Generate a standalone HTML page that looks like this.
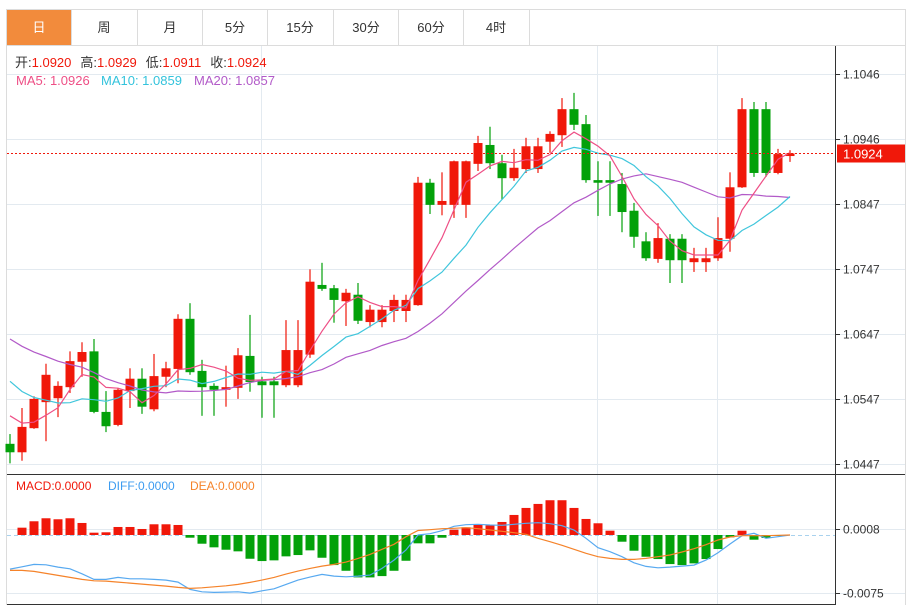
<!DOCTYPE html>
<html><head><meta charset="utf-8"><style>
html,body{margin:0;padding:0;background:#fff;}
svg{display:block;font-family:"Liberation Sans","Noto Sans CJK SC",sans-serif;}
</style></head><body>
<svg id="c" width="916" height="606" viewBox="0 0 916 606">
  <rect x="0" y="0" width="916" height="606" fill="#fff"/>
  <g>
    <line x1="6" y1="9.5" x2="906" y2="9.5" stroke="#dcdcdc"/>
    <line x1="6" y1="45.5" x2="906" y2="45.5" stroke="#dcdcdc"/>
    <rect x="7" y="10" width="64" height="35" fill="#f28b3c"/>
    <text x="39" y="32" text-anchor="middle" font-size="13" fill="#fff">日</text>
    <g stroke="#dcdcdc"><line x1="71.5" y1="10" x2="71.5" y2="45"/><line x1="137.5" y1="10" x2="137.5" y2="45"/><line x1="202.5" y1="10" x2="202.5" y2="45"/><line x1="267.5" y1="10" x2="267.5" y2="45"/><line x1="333.5" y1="10" x2="333.5" y2="45"/><line x1="398.5" y1="10" x2="398.5" y2="45"/><line x1="463.5" y1="10" x2="463.5" y2="45"/><line x1="529.5" y1="10" x2="529.5" y2="45"/></g>
    <g font-size="13" fill="#333" text-anchor="middle">
      <text x="104" y="32">周</text>
      <text x="170" y="32">月</text>
      <text x="235" y="32">5分</text>
      <text x="300" y="32">15分</text>
      <text x="366" y="32">30分</text>
      <text x="431" y="32">60分</text>
      <text x="496" y="32">4时</text>
    </g>
  </g>
  <line x1="6.5" y1="9" x2="6.5" y2="605" stroke="#dcdcdc"/>
  <line x1="905.5" y1="9" x2="905.5" y2="605" stroke="#dcdcdc"/>
  <g id="grid"></g>
  <g id="marks"></g>
  <line x1="835.5" y1="46" x2="835.5" y2="605" stroke="#333"/>
  <line x1="7" y1="474.5" x2="905" y2="474.5" stroke="#333"/>
  <line x1="7" y1="604.5" x2="835" y2="604.5" stroke="#333"/>
  <g id="axis" font-size="12" fill="#333"></g>
  <g font-size="13">
    <text x="15" y="67"><tspan fill="#333">开:</tspan><tspan fill="#f0180a">1.0920</tspan><tspan fill="#333" dx="9">高:</tspan><tspan fill="#f0180a">1.0929</tspan><tspan fill="#333" dx="9">低:</tspan><tspan fill="#f0180a">1.0911</tspan><tspan fill="#333" dx="9">收:</tspan><tspan fill="#f0180a">1.0924</tspan></text>
  </g>
  <g font-size="13">
    <text x="16" y="85" fill="#ee4f86">MA5: 1.0926</text>
    <text x="101" y="85" fill="#33c3dc">MA10: 1.0859</text>
    <text x="194" y="85" fill="#b25ac8">MA20: 1.0857</text>
  </g>
  <g font-size="12">
    <text x="16" y="490" fill="#f0180a">MACD:0.0000</text>
    <text x="108" y="490" fill="#3d9cf0">DIFF:0.0000</text>
    <text x="190" y="490" fill="#f5832a">DEA:0.0000</text>
  </g>
</svg>
<script>
const opens=[1.0478,1.0465,1.0502,1.0542,1.0548,1.0565,1.0604,1.0620,1.0527,1.0507,1.0559,1.0578,1.0531,1.0581,1.0593,1.0670,1.0590,1.0567,1.0561,1.0564,1.0613,1.0574,1.0574,1.0568,1.0568,1.0615,1.0722,1.0717,1.0697,1.0707,1.0665,1.0665,1.0682,1.0682,1.0691,1.0879,1.0845,1.0845,1.0845,1.0908,1.0937,1.0909,1.0886,1.0900,1.0900,1.0942,1.0952,1.0992,1.0969,1.0883,1.0883,1.0877,1.0836,1.0789,1.0762,1.0793,1.0793,1.0757,1.0757,1.0763,1.0793,1.0872,1.0992,1.0992,1.0894,1.0920];
const closes=[1.0465,1.0504,1.0547,1.0584,1.0567,1.0605,1.0619,1.0527,1.0505,1.0561,1.0578,1.0535,1.0582,1.0594,1.0670,1.0588,1.0565,1.0561,1.0565,1.0614,1.0573,1.0568,1.0568,1.0622,1.0622,1.0727,1.0716,1.0699,1.0710,1.0667,1.0684,1.0684,1.0699,1.0699,1.0879,1.0845,1.0851,1.0912,1.0912,1.0940,1.0909,1.0886,1.0902,1.0935,1.0935,1.0954,1.0992,1.0968,1.0883,1.0879,1.0879,1.0834,1.0796,1.0763,1.0794,1.0760,1.0760,1.0763,1.0763,1.0794,1.0872,1.0992,1.0894,1.0894,1.0923,1.0924];
const highs=[1.0493,1.0533,1.0551,1.0601,1.0574,1.0620,1.0634,1.0639,1.0559,1.0563,1.0594,1.0594,1.0616,1.0604,1.0677,1.0694,1.0607,1.0571,1.0598,1.0625,1.0676,1.0581,1.0581,1.0668,1.0668,1.0746,1.0756,1.0722,1.0716,1.0725,1.0691,1.0691,1.0707,1.0707,1.0888,1.0885,1.0895,1.0913,1.0913,1.0951,1.0965,1.0922,1.0931,1.0948,1.0948,1.0958,1.1009,1.1017,1.0983,1.0912,1.0912,1.0894,1.0848,1.0803,1.0817,1.0800,1.0800,1.0779,1.0779,1.0826,1.0895,1.1009,1.1003,1.1003,1.0931,1.0929];
const lows=[1.0448,1.0452,1.0501,1.0482,1.0519,1.0556,1.0581,1.0525,1.0496,1.0505,1.0533,1.0524,1.0528,1.0565,1.0571,1.0584,1.0521,1.0521,1.0535,1.0547,1.0558,1.0518,1.0518,1.0565,1.0565,1.0610,1.0713,1.0664,1.0659,1.0662,1.0657,1.0657,1.0665,1.0665,1.0690,1.0831,1.0829,1.0825,1.0825,1.0897,1.0900,1.0853,1.0882,1.0894,1.0894,1.0925,1.0934,1.0960,1.0879,1.0828,1.0828,1.0803,1.0779,1.0759,1.0756,1.0725,1.0725,1.0742,1.0742,1.0759,1.0773,1.0871,1.0888,1.0888,1.0892,1.0911];
const priorCloses=[1.0730,1.0725,1.0718,1.0712,1.0706,1.0700,1.0695,1.0690,1.0686,1.0678,1.0660,1.0640,1.0625,1.0610,1.0600,1.0560,1.0540,1.0530,1.0510];
const priceTicks=[1.1046,1.0946,1.0847,1.0747,1.0647,1.0547,1.0447];
const lastPrice=1.0924;
// MACD in units of 0.0001
const macdHist=[0,9.5,17.8,21.7,20.4,21.7,15.6,3.0,3.5,10.4,10.4,7.8,13.9,13.9,13.0,-3.5,-11.3,-16.0,-19.1,-21.2,-30.8,-33.8,-32.9,-27.7,-26.0,-19.9,-29.5,-39.0,-46.4,-55.0,-55.0,-53.3,-46.4,-33.4,-10.8,-10.8,-3.5,6.9,10.0,13.4,12.6,16.9,26.0,35.1,40.3,45.1,45.1,35.1,20.8,15.2,5.6,-8.7,-20.4,-28.2,-31.2,-37.7,-39.0,-36.8,-31.2,-18.2,-3.0,5.6,-6.1,-3.9,-1.0,0];
const difValues=[-44.2,-41.2,-38.1,-38.6,-41.6,-43.8,-50.3,-57.6,-57.6,-55.0,-56.8,-56.8,-57.6,-58.5,-61.1,-70.6,-73.7,-74.5,-74.1,-73.7,-75.4,-72.4,-69.8,-64.1,-58.5,-54.6,-51.1,-53.3,-54.2,-53.3,-52.0,-43.3,-32.5,-19.5,0,1.7,5.6,11.3,13.4,13.9,13.0,12.6,13.9,15.2,16.0,14.7,12.1,6.5,-4.3,-16.5,-21.7,-28.2,-36.0,-40.7,-42.5,-41.6,-40.3,-39.0,-32.5,-23.0,-11.7,-0.9,2.2,-4.3,-2.2,0];
const deaValues=[-45.9,-45.9,-47.2,-49.8,-52.4,-55.0,-57.6,-59.4,-59.8,-61.1,-62.4,-63.7,-65.0,-66.3,-68.0,-69.3,-68.5,-67.2,-65.9,-64.1,-61.5,-58.5,-55.0,-50.7,-46.8,-43.3,-40.3,-38.1,-35.1,-30.3,-25.1,-18.6,-12.1,-2.2,5.9,6.9,8.2,8.7,9.5,8.2,6.5,4.8,3.0,0.9,-4.3,-8.7,-13.4,-18.6,-23.8,-28.2,-30.3,-31.6,-31.6,-30.3,-28.2,-26.0,-22.1,-17.8,-12.6,-6.5,-2.6,-0.9,-0.9,-0.9,-0.4,0];
const macdTicks=[8,-75];

const NS="http://www.w3.org/2000/svg";
const RED="#f0180a",GREEN="#03a10a";
function el(tag,attrs,parent){const e=document.createElementNS(NS,tag);for(const k in attrs)e.setAttribute(k,attrs[k]);parent.appendChild(e);return e;}
const xS=i=>10+i*12;
const yP=p=>74+(1.1046-p)/(1.1046-1.0447)*390;
const yM=v=>535-v*0.771;
const grid=document.getElementById('grid'),marks=document.getElementById('marks'),axis=document.getElementById('axis');

priceTicks.forEach(t=>{
  const y=Math.round(yP(t))+0.5;
  const g=el('line',{x1:7,y1:y,x2:905,y2:y,stroke:'#e3eaf0'},grid);
  
  
  el('line',{x1:835,y1:y,x2:840,y2:y,stroke:'#333'},axis);
  const tx=el('text',{x:843,y:y+4},axis);tx.textContent=t.toFixed(4);
  
  
});
macdTicks.forEach(t=>{
  const y=Math.round(yM(t))+0.5;
  const g=el('line',{x1:7,y1:y,x2:905,y2:y,stroke:'#e3eaf0'},grid);
  
  
  el('line',{x1:835,y1:y,x2:840,y2:y,stroke:'#333'},axis);
  const tx=el('text',{x:843,y:y+4},axis);tx.textContent=(t/10000).toFixed(4);
  
  
});
[261,597,717].forEach(x=>{
  el('line',{x1:x+0.5,y1:46,x2:x+0.5,y2:604,stroke:'#e3eaf0'},grid);
});
el('line',{x1:7,y1:535.5,x2:835,y2:535.5,stroke:'#a9d2ee','stroke-dasharray':'4,3'},grid);

// MACD histogram
macdHist.forEach((v,i)=>{
  if(Math.abs(v)<0.01)return;
  const y0=yM(0),y1=yM(v);
  const r=el('rect',{x:xS(i)-4.5,y:Math.min(y0,y1),width:9,height:Math.max(1,Math.abs(y1-y0)),fill:v>0?RED:GREEN},marks);
  
  
});
function line(vals,fy,color,name,start){
  let d='';vals.forEach((v,i)=>{if(v==null)return;d+=(d?'L':'M')+xS(i).toFixed(1)+','+fy(v).toFixed(1);});
  const p=el('path',{d:d,fill:'none',stroke:color,'stroke-width':1.2},marks);
  
  
}
line(difValues,yM,'#57a9f0','dif-line');
line(deaValues,yM,'#f5832a','dea-line');

// candles
closes.forEach((c,i)=>{
  const o=opens[i],up=c>=o,col=up?RED:GREEN,x=xS(i);
  const g=el('g',{},marks);
  
  
  el('line',{x1:x,y1:yP(highs[i]),x2:x,y2:yP(lows[i]),stroke:col,'stroke-width':1.2},g);
  const yt=yP(Math.max(o,c)),yb=yP(Math.min(o,c));
  el('rect',{x:x-4.5,y:yt,width:9,height:Math.max(1.5,yb-yt),fill:col},g);
});
// moving averages
const all=priorCloses.concat(closes);
function ma(n){return closes.map((_,i)=>{const j=i+priorCloses.length;let s=0;for(let k=j-n+1;k<=j;k++)s+=all[k];return s/n;});}
line(ma(20),yP,'#b25ac8','ma20-line');
line(ma(10),yP,'#40c6dc','ma10-line');
line(ma(5),yP,'#ee4f86','ma5-line');

// last price
const ly=Math.round(yP(lastPrice))+0.5;
const dl=el('line',{x1:7,y1:ly,x2:835,y2:ly,stroke:RED,'stroke-dasharray':'2,2'},marks);


const tag=el('rect',{x:837,y:ly-9,width:68,height:18,fill:RED},marks);


const tt=el('text',{x:843,y:ly+5,fill:'#fff','font-size':13},marks);tt.textContent=lastPrice.toFixed(4);
</script>
</body></html>
